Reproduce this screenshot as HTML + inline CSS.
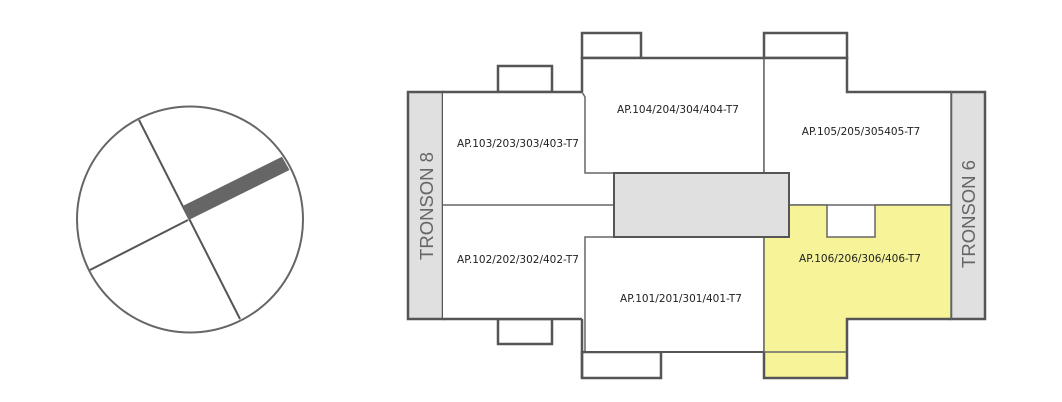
<!DOCTYPE html>
<html><head><meta charset="utf-8"><style>
html,body{margin:0;padding:0;background:#fff;}
svg{display:block;}
text{font-family:"DejaVu Sans","Liberation Sans",sans-serif;}
</style></head><body>
<svg width="1062" height="402" viewBox="0 0 1062 402" xmlns="http://www.w3.org/2000/svg">
<!-- compass -->
<circle cx="190" cy="219.5" r="113" fill="#fff" stroke="#666" stroke-width="2"/>
<line x1="139" y1="120" x2="240" y2="319" stroke="#555" stroke-width="2"/>
<line x1="90" y1="270" x2="188" y2="220" stroke="#555" stroke-width="2"/>
<polygon points="182.7,206 282,156.7 289.5,170 188.7,220" fill="#666"/>

<g stroke="#555" stroke-width="2.5" fill="none">
<rect x="408" y="92" width="35" height="227" fill="#e0e0e0"/>
<rect x="951" y="92" width="34" height="227" fill="#e0e0e0"/>
<rect x="498" y="66" width="54" height="26" fill="#fff"/>
<rect x="498" y="319" width="54" height="25" fill="#fff"/>
<rect x="582" y="33" width="59" height="25" fill="#fff"/>
<rect x="764" y="33" width="83" height="25" fill="#fff"/>
<rect x="582" y="352" width="79" height="26" fill="#fff"/>
</g>
<!-- left block -->
<rect x="443" y="92" width="171" height="227" fill="#fff"/>
<path d="M443 92 H582 M443 319 H582" stroke="#555" stroke-width="2.5"/>
<line x1="443" y1="205" x2="614" y2="205" stroke="#666" stroke-width="1.5"/>
<!-- top middle -->
<path d="M582 58 H764 V173 H585 V97 L582 92 Z" fill="#fff" stroke="#666" stroke-width="1.5"/>
<path d="M582 92 V58 H764" fill="none" stroke="#555" stroke-width="2.5"/>
<!-- top right -->
<path d="M764 58 H847 V92 H951 V205 H789 V173 H764 Z" fill="#fff" stroke="#666" stroke-width="1.5"/>
<path d="M764 58 H847 V92 H951" fill="none" stroke="#555" stroke-width="2.5"/>
<!-- bottom middle -->
<path d="M585 237 H764 V352 H585 Z" fill="#fff" stroke="#666" stroke-width="1.5"/>
<path d="M582 319 V378" fill="none" stroke="#555" stroke-width="2.5"/>
<line x1="582" y1="352" x2="764" y2="352" stroke="#555" stroke-width="2"/>
<!-- yellow -->
<path d="M789 205 H827 V237 H875 V205 H951 V319 H847 V378 H764 V237 H789 Z" fill="#f6f399" stroke="#666" stroke-width="1.5"/>
<path d="M951 319 H847 V378 H764 V352" fill="none" stroke="#555" stroke-width="2.5"/>
<line x1="764" y1="352" x2="847" y2="352" stroke="#666" stroke-width="1.5"/>
<!-- gray center -->
<rect x="614" y="173" width="175" height="64" fill="#e0e0e0" stroke="#555" stroke-width="2"/>
<!-- labels -->
<g font-size="10.5" fill="#222" text-anchor="middle">
<text x="518" y="147">AP.103/203/303/403-T7</text>
<text x="518" y="263">AP.102/202/302/402-T7</text>
<text x="678" y="113">AP.104/204/304/404-T7</text>
<text x="681" y="302">AP.101/201/301/401-T7</text>
<text x="861" y="135">AP.105/205/305405-T7</text>
<text x="860" y="262">AP.106/206/306/406-T7</text>
</g>
<text transform="translate(433,206) rotate(-90)" font-size="18.5" fill="#666" text-anchor="middle" style="font-family:'Liberation Sans',sans-serif">TRONSON 8</text>
<text transform="translate(975,214) rotate(-90)" font-size="18.5" fill="#666" text-anchor="middle" style="font-family:'Liberation Sans',sans-serif">TRONSON 6</text>
</svg>
</body></html>
